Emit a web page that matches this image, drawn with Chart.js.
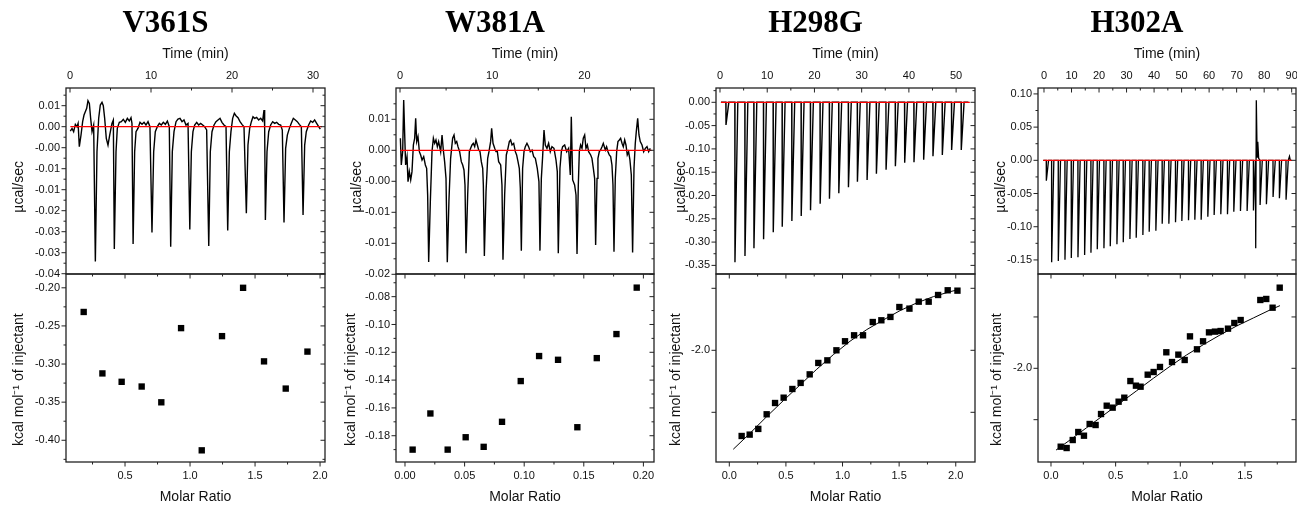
<!DOCTYPE html>
<html><head><meta charset="utf-8">
<script src="https://cdn.jsdelivr.net/npm/chart.js@4.4.1/dist/chart.umd.min.js"></script>
<style>
html,body{margin:0;padding:0;overflow:hidden;background:#fff;width:1297px;height:505px;position:relative;}
canvas{position:absolute;}
</style></head><body>
<script>
// ---------------- DATA ----------------
const NAMES = ['V361S', 'W381A', 'H298G', 'H302A'];

// V361S raw thermogram: time (min) and heat rate (x10^-3 ucal/sec)
const V361S_T = [0.04,0.25,0.45,0.66,0.86,1.00,1.15,1.36,1.56,1.73,1.89,2.06,2.22,2.39,2.55,2.72,2.92,3.13,
 3.33,3.54,3.74,3.95,4.11,4.28,4.48,4.69,4.90,5.18,5.35,5.47,
 5.68,5.84,6.09,6.34,6.58,6.83,7.08,7.32,7.53,7.65,7.79,
 7.98,8.15,8.39,8.64,8.89,9.14,9.38,9.63,9.87,10.12,
 10.33,10.53,10.78,11.03,11.27,11.52,11.77,12.02,12.26,12.43,
 12.63,12.84,13.09,13.33,13.58,13.83,14.07,14.32,14.57,14.79,
 14.98,15.18,15.39,15.64,15.88,16.13,16.38,16.62,16.87,17.13,
 17.32,17.53,17.78,18.02,18.27,18.52,18.76,19.01,19.26,19.47,
 19.67,19.87,20.08,20.29,20.49,20.74,20.99,21.23,21.48,21.77,
 21.97,22.18,22.39,22.59,22.80,23.04,23.29,23.54,23.78,23.95,24.03,24.12,
 24.32,24.53,24.77,25.02,25.27,25.51,25.76,26.01,26.21,26.42,
 26.62,26.83,27.08,27.32,27.57,27.82,28.06,28.31,28.56,28.77,
 28.97,29.17,29.46,29.71,29.96,30.20,30.45,30.70,30.90];
const V361S_Q = [-1.03,-0.40,-1.19,0.56,0,0.79,-4.76,-1.98,1.19,2.78,3.57,4.37,6.19,5.56,1.99,-1.19,0.40,-32.1,
 -5.96,1.99,5.16,5.80,5.00,1.99,-2.78,-4.37,-1.99,0.79,1.59,-29.1,
 -5.96,-0.40,1.03,1.19,1.75,1.03,1.99,1.35,2.14,0.79,-27.9,
 -5.96,-1.19,-0.40,1.03,0.56,1.03,0.40,1.19,0,-25.2,
 -5.96,-1.19,0,0.79,0.40,1.03,0.56,1.35,0,-28.6,
 -5.96,-1.19,1.19,1.83,1.99,1.19,1.59,0.40,0.79,-24.5,
 -5.96,-1.19,0.40,1.03,0.40,0.79,0.40,0,-0.79,-28.4,
 -5.96,-1.19,0.40,1.19,1.59,1.99,1.03,0.40,0,-24.7,
 -5.96,-1.19,1.99,3.18,2.62,2.14,1.19,0.56,0,-20.6,
 -4.37,-0.40,1.19,2.38,1.99,2.22,1.59,1.99,1.35,3.97,0,-22.2,
 -5.96,-1.19,0.40,1.19,0.79,1.03,0.56,0.40,-0.79,-22.8,
 -5.16,-1.99,-0.40,0.79,1.99,1.59,1.19,0.56,0,-21.0,
 -4.37,-1.19,0.40,1.35,1.03,1.59,0.79,0,-0.56];
const V361S_BASE_T = [0.04, 31.1];
const V361S_MR = [0.182,0.326,0.474,0.628,0.779,0.931,1.090,1.246,1.408,1.569,1.736,1.903];
const V361S_H = [-0.2317,-0.3123,-0.3233,-0.3295,-0.3502,-0.2529,-0.4132,-0.2634,-0.2000,-0.2965,-0.3322,-0.2837];

// W381A raw thermogram (x10^-3 ucal/sec)
const W381A_T = [0.04,0.14,0.29,0.40,0.51,0.61,0.76,0.87,1.01,1.16,
 1.30,1.45,1.59,1.70,1.81,1.95,2.10,2.24,2.39,2.57,
 2.75,2.89,3.00,3.11,3.29,3.47,3.62,3.76,3.90,4.05,
 4.19,4.41,4.56,4.70,4.84,4.99,5.13,5.31,5.49,5.71,
 5.86,6.00,6.15,6.29,6.47,6.65,6.80,6.94,7.05,7.16,
 7.34,7.52,7.66,7.81,7.95,8.10,8.24,8.39,8.53,8.68,
 8.82,8.97,9.04,9.15,9.33,9.51,9.65,9.83,9.94,10.09,
 10.27,10.41,10.56,10.70,10.92,11.06,11.17,11.35,11.53,11.71,
 11.86,12.00,12.15,12.33,12.51,12.65,12.80,12.94,13.05,13.16,
 13.30,13.45,13.59,13.77,13.95,14.13,14.32,14.50,14.68,14.89,
 15.07,15.18,15.33,15.47,15.62,15.76,15.94,16.12,16.30,16.48,
 16.70,16.92,17.06,17.17,17.35,17.50,17.64,17.86,18.08,18.29,
 18.47,18.58,18.73,18.94,19.09,19.20,19.34,19.45,19.59,19.74,
 19.88,20.03,20.17,20.32,20.46,20.68,20.82,20.97,21.11,21.22,
 21.37,21.47,21.62,21.76,21.91,22.05,22.27,22.41,22.56,22.70,
 22.85,22.99,23.10,23.21,23.35,23.50,23.64,23.79,23.93,24.08,
 24.22,24.37,24.51,24.65,24.80,24.94,25.09,25.23,25.38,25.52,
 25.63,25.78,25.92,26.06,26.25,26.43,26.61,26.79,26.97,27.15];
const W381A_Q = [1.94,-2.37,-0.22,8.12,2.47,-2.37,-1.02,-5.05,-3.44,-4.78,
 -3.44,0.86,1.94,5.16,1.40,2.20,-0.22,-0.75,-1.56,-1.02,
 -2.37,-2.90,-7.20,-18.01,-8.28,-0.22,1.94,1.13,1.67,0.59,
 1.40,-0.22,2.47,0.05,-1.83,-4.52,-18.06,-8.01,-1.29,1.94,
 2.47,1.13,1.40,0.59,-0.22,-1.83,-2.37,-3.17,-5.59,-16.61,
 -7.20,-0.22,0.32,0.86,1.13,0.59,1.67,0.86,0.05,-0.22,
 -1.83,-2.90,-5.59,-17.04,-6.67,-1.29,-0.22,1.40,3.55,1.13,
 0.32,-0.22,-0.22,-1.83,-2.37,-5.59,-17.63,-7.20,-0.75,0.32,
 1.40,1.67,0.86,1.13,-0.22,-0.75,-1.83,-2.90,-6.13,-16.18,
 -2.90,-0.22,0.59,1.13,0.59,-0.22,0.05,-1.02,-1.29,-2.90,
 -5.05,-16.18,-4.52,-1.02,3.28,0.86,0.32,1.13,-0.22,0.59,
 0.32,-1.56,-3.44,-16.61,-2.90,-0.22,0.59,0.86,-0.22,0.32,
 -3.98,5.43,-4.78,-5.59,-7.20,-16.72,-5.59,-0.22,0.86,0.32,
 1.94,2.47,0.32,0.86,-0.22,-0.75,-1.29,-2.90,-4.52,-15.27,
 -4.52,-1.29,-0.22,0.05,0.59,1.13,0.05,0.59,-0.22,-0.75,
 -1.02,-2.37,-5.59,-16.34,-4.52,-0.22,1.40,1.67,1.94,1.13,
 0.59,1.67,0.86,-0.75,-0.22,-1.56,-3.98,-16.50,-2.90,1.13,
 3.01,5.16,2.47,1.40,0.86,-0.22,0.32,0.59,-0.22,0.32];
const W381A_BASE_T = [0.04, 27.3];
const W381A_MR = [0.0064,0.0213,0.0358,0.0509,0.0660,0.0814,0.0971,0.1125,0.1284,0.1446,0.1609,0.1774,0.1944];
const W381A_H = [-0.1900,-0.1640,-0.1900,-0.1811,-0.1880,-0.1700,-0.1407,-0.1227,-0.1254,-0.1739,-0.1242,-0.1069,-0.0735];

// H298G injections: time (min) and peak heat rate (ucal/sec)
const H298G_INJ_T = [1.27,3.17,5.29,7.19,9.23,11.28,13.18,15.22,17.20,19.17,21.21,23.18,25.16,27.20,29.10,31.15,33.12,35.17,37.14,39.11,41.08,43.13,45.10,47.08,49.05,51.09];
const H298G_PEAK = [-0.0487,-0.3434,-0.3298,-0.3134,-0.2941,-0.2790,-0.2669,-0.2547,-0.2440,-0.2318,-0.2175,-0.2068,-0.1953,-0.1825,-0.1703,-0.1667,-0.1531,-0.1446,-0.1374,-0.1296,-0.1288,-0.1231,-0.1159,-0.1131,-0.1024,-0.1024];
const H298G_TRACE_SPAN = [0.2, 52.6];
const H298G_BASE_T = [0.2, 52.9];
const H298G_MR = [0.109,0.180,0.256,0.330,0.404,0.480,0.557,0.630,0.710,0.786,0.866,0.946,1.022,1.102,1.181,1.267,1.343,1.423,1.502,1.591,1.673,1.761,1.844,1.929,2.015];
const H298G_H = [-2.691,-2.680,-2.634,-2.516,-2.425,-2.382,-2.312,-2.263,-2.194,-2.102,-2.081,-2.000,-1.927,-1.879,-1.879,-1.772,-1.758,-1.731,-1.651,-1.664,-1.608,-1.608,-1.554,-1.516,-1.519];
const H298G_FIT_MR = [0.035,0.183,0.330,0.477,0.624,0.772,0.919,1.066,1.214,1.361,1.508,1.655,1.803,1.950,2.015];
const H298G_FIT_H = [-2.798,-2.669,-2.535,-2.406,-2.280,-2.153,-2.035,-1.927,-1.833,-1.755,-1.680,-1.618,-1.567,-1.527,-1.513];

// H302A injections
const H302A_INJ_T = [0.85,2.78,5.20,7.62,9.92,12.34,14.76,17.06,19.36,21.78,24.08,26.50,28.80,31.22,33.51,35.93,38.23,40.65,42.95,45.37,47.79,50.09,52.51,54.81,57.11,59.53,61.83,64.25,66.67,68.97,71.39,73.81,76.11,78.52,80.82,83.24,85.54,87.96];
const H302A_PEAK = [-0.0306,-0.1536,-0.1516,-0.1496,-0.1471,-0.1461,-0.1426,-0.1391,-0.1340,-0.1325,-0.1295,-0.1265,-0.1235,-0.1185,-0.1165,-0.1124,-0.1074,-0.1059,-0.0954,-0.0954,-0.0934,-0.0914,-0.0904,-0.0894,-0.0894,-0.0848,-0.0823,-0.0813,-0.0813,-0.0773,-0.0763,-0.0763,-0.0755,-0.0673,-0.0663,-0.0552,-0.0572,-0.0592];
const H302A_EXTRA_T = [76.85,76.95,77.15,77.45,77.68,78.0,88.9,89.2,89.5];
const H302A_EXTRA_Q = [0,-0.1325,0.0904,0.005,0.028,0.003,0,0.006,0];
const H302A_TRACE_SPAN = [-0.25, 90.0];
const H302A_BASE_T = [-0.25, 90.0];
const H302A_MR = [0.075,0.121,0.168,0.211,0.255,0.299,0.345,0.387,0.431,0.477,0.523,0.567,0.614,0.657,0.693,0.748,0.794,0.843,0.892,0.936,0.985,1.034,1.075,1.129,1.176,1.222,1.268,1.312,1.369,1.418,1.467,1.619,1.665,1.714,1.769];
const H302A_H = [-2.763,-2.776,-2.698,-2.620,-2.656,-2.542,-2.552,-2.445,-2.364,-2.383,-2.325,-2.286,-2.124,-2.169,-2.179,-2.062,-2.036,-1.987,-1.844,-1.939,-1.867,-1.919,-1.689,-1.815,-1.737,-1.650,-1.643,-1.637,-1.614,-1.559,-1.530,-1.335,-1.325,-1.410,-1.215];
const H302A_FIT_MR = [0.039,0.147,0.276,0.405,0.534,0.663,0.791,0.920,1.049,1.178,1.307,1.436,1.565,1.694,1.771];
const H302A_FIT_H = [-2.796,-2.698,-2.578,-2.458,-2.338,-2.218,-2.098,-1.981,-1.870,-1.770,-1.676,-1.588,-1.510,-1.432,-1.390];

// ---------------- TICKS ----------------
const V361S_TIME_TICKS = [0,10,20,30], V361S_TIME_MINOR = [5,15,25];
const V361S_RATE_TICKS = [0.005,0,-0.005,-0.01,-0.015,-0.02,-0.025,-0.03,-0.035];
const V361S_RATE_LABELS = ['0.01','0.00','-0.00','-0.01','-0.01','-0.02','-0.03','-0.03','-0.04'];
const V361S_RATE_MINOR = [0.0075,0.0025,-0.0025,-0.0075,-0.0125,-0.0175,-0.0225,-0.0275,-0.0325];
const V361S_MR_TICKS = [0.5,1,1.5,2], V361S_MR_LABELS = ['0.5','1.0','1.5','2.0'], V361S_MR_MINOR = [0.25,0.75,1.25,1.75];
const V361S_H_TICKS = [-0.2,-0.25,-0.3,-0.35,-0.4], V361S_H_LABELS = ['-0.20','-0.25','-0.30','-0.35','-0.40'];
const V361S_H_MINOR = [-0.225,-0.275,-0.325,-0.375,-0.425];

const W381A_TIME_TICKS = [0,10,20], W381A_TIME_MINOR = [5,15,25];
const W381A_RATE_TICKS = [0.005,0,-0.005,-0.01,-0.015,-0.02];
const W381A_RATE_LABELS = ['0.01','0.00','-0.00','-0.01','-0.01','-0.02'];
const W381A_RATE_MINOR = [0.0075,0.0025,-0.0025,-0.0075,-0.0125,-0.0175];
const W381A_MR_TICKS = [0,0.05,0.1,0.15,0.2], W381A_MR_LABELS = ['0.00','0.05','0.10','0.15','0.20'], W381A_MR_MINOR = [0.025,0.075,0.125,0.175];
const W381A_H_TICKS = [-0.08,-0.1,-0.12,-0.14,-0.16,-0.18], W381A_H_LABELS = ['-0.08','-0.10','-0.12','-0.14','-0.16','-0.18'];
const W381A_H_MINOR = [-0.07,-0.09,-0.11,-0.13,-0.15,-0.17,-0.19];

const H298G_TIME_TICKS = [0,10,20,30,40,50], H298G_TIME_MINOR = [5,15,25,35,45];
const H298G_RATE_TICKS = [0,-0.05,-0.1,-0.15,-0.2,-0.25,-0.3,-0.35];
const H298G_RATE_LABELS = ['0.00','-0.05','-0.10','-0.15','-0.20','-0.25','-0.30','-0.35'];
const H298G_RATE_MINOR = [0.025,-0.025,-0.075,-0.125,-0.175,-0.225,-0.275,-0.325];
const H298G_MR_TICKS = [0,0.5,1,1.5,2], H298G_MR_LABELS = ['0.0','0.5','1.0','1.5','2.0'], H298G_MR_MINOR = [0.25,0.75,1.25,1.75];
const H298G_H_TICKS = [-1.5,-2,-2.5], H298G_H_LABELS = ['','-2.0',''], H298G_H_MINOR = [];

const H302A_TIME_TICKS = [0,10,20,30,40,50,60,70,80,90], H302A_TIME_MINOR = [5,15,25,35,45,55,65,75,85];
const H302A_RATE_TICKS = [0.1,0.05,0,-0.05,-0.1,-0.15];
const H302A_RATE_LABELS = ['0.10','0.05','0.00','-0.05','-0.10','-0.15'];
const H302A_RATE_MINOR = [0.075,0.025,-0.025,-0.075,-0.125];
const H302A_MR_TICKS = [0,0.5,1,1.5], H302A_MR_LABELS = ['0.0','0.5','1.0','1.5'], H302A_MR_MINOR = [0.25,0.75,1.25,1.75];
const H302A_H_TICKS = [-1.5,-2,-2.5], H302A_H_LABELS = ['','-2.0',''], H302A_H_MINOR = [];

// ---------------- LAYOUT / STYLE ----------------
const SANS = "'Liberation Sans', Arial, sans-serif";
const SERIF = "'Liberation Serif', 'Times New Roman', serif";
Chart.defaults.font.family = SANS;
Chart.defaults.color = '#111';

function milliTrace(T, Q) { return T.map((t, i) => ({x: t, y: Q[i] / 1000})); }
function spikeTrace(span, injT, peak, rec, exT, exQ) {
  const pts = [{x: span[0], y: 0}, {x: span[1], y: 0}];
  injT.forEach((t, i) => { pts.push({x: t - 0.03, y: 0}, {x: t, y: peak[i]}, {x: t + rec, y: 0}); });
  (exT || []).forEach((t, i) => pts.push({x: t, y: exQ[i]}));
  return pts.sort((a, b) => a.x - b.x);
}
const pairs = (X, Y) => X.map((x, i) => ({x, y: Y[i]}));

const PANELS = [
 { name: NAMES[0], L: 66, R: 325, topTitleX: 19, botTitleX: 19, lw: 1.4,
   trace: milliTrace(V361S_T, V361S_Q), base: V361S_BASE_T,
   tx: [-0.494, 31.48], ty: [-0.03507, 0.00921],
   tT: V361S_TIME_TICKS, tTm: V361S_TIME_MINOR, rT: V361S_RATE_TICKS, rL: V361S_RATE_LABELS, rTm: V361S_RATE_MINOR,
   pts: pairs(V361S_MR, V361S_H), fit: null,
   bx: [0.046, 2.038], by: [-0.4285, -0.1819],
   mT: V361S_MR_TICKS, mL: V361S_MR_LABELS, mTm: V361S_MR_MINOR, hT: V361S_H_TICKS, hL: V361S_H_LABELS, hTm: V361S_H_MINOR },
 { name: NAMES[1], L: 396, R: 654, topTitleX: 357, botTitleX: 351, lw: 1.4,
   trace: milliTrace(W381A_T, W381A_Q), base: W381A_BASE_T,
   tx: [-0.434, 27.55], ty: [-0.01995, 0.01005],
   tT: W381A_TIME_TICKS, tTm: W381A_TIME_MINOR, rT: W381A_RATE_TICKS, rL: W381A_RATE_LABELS, rTm: W381A_RATE_MINOR,
   pts: pairs(W381A_MR, W381A_H), fit: null,
   bx: [-0.00755, 0.2089], by: [-0.1989, -0.0637],
   mT: W381A_MR_TICKS, mL: W381A_MR_LABELS, mTm: W381A_MR_MINOR, hT: W381A_H_TICKS, hL: W381A_H_LABELS, hTm: W381A_H_MINOR },
 { name: NAMES[2], L: 716, R: 975, topTitleX: 681.5, botTitleX: 676, lw: 1.4,
   trace: spikeTrace(H298G_TRACE_SPAN, H298G_INJ_T, H298G_PEAK, 0.6), base: H298G_BASE_T,
   tx: [-0.847, 54.0], ty: [-0.3685, 0.0307],
   tT: H298G_TIME_TICKS, tTm: H298G_TIME_MINOR, rT: H298G_RATE_TICKS, rL: H298G_RATE_LABELS, rTm: H298G_RATE_MINOR,
   pts: pairs(H298G_MR, H298G_H), fit: pairs(H298G_FIT_MR, H298G_FIT_H),
   bx: [-0.1175, 2.170], by: [-2.9008, -1.3847],
   mT: H298G_MR_TICKS, mL: H298G_MR_LABELS, mTm: H298G_MR_MINOR, hT: H298G_H_TICKS, hL: H298G_H_LABELS, hTm: H298G_H_MINOR },
 { name: NAMES[3], L: 1038, R: 1296, topTitleX: 1001.5, botTitleX: 997, lw: 1.3,
   trace: spikeTrace(H302A_TRACE_SPAN, H302A_INJ_T, H302A_PEAK, 0.8, H302A_EXTRA_T, H302A_EXTRA_Q), base: H302A_BASE_T,
   tx: [-2.18, 91.57], ty: [-0.1712, 0.1089],
   tT: H302A_TIME_TICKS, tTm: H302A_TIME_MINOR, rT: H302A_RATE_TICKS, rL: H302A_RATE_LABELS, rTm: H302A_RATE_MINOR,
   pts: pairs(H302A_MR, H302A_H), fit: pairs(H302A_FIT_MR, H302A_FIT_H),
   bx: [-0.1005, 1.895], by: [-2.912, -1.082],
   mT: H302A_MR_TICKS, mL: H302A_MR_LABELS, mTm: H302A_MR_MINOR, hT: H302A_H_TICKS, hL: H302A_H_LABELS, hTm: H302A_H_MINOR }
];

const MAJOR_LEN = 4.5, MINOR_LEN = 2.5;
function frameTicks(sides) {
  return {
    id: 'frameTicks',
    afterDatasetsDraw(chart) {
      const {ctx, chartArea: a} = chart;
      ctx.save();
      ctx.strokeStyle = '#222';
      ctx.lineWidth = 1;
      for (const s of sides) {
        const sc = chart.scales[s.scale];
        const horiz = s.side === 'top' || s.side === 'bottom';
        const edge = {left: a.left, right: a.right, top: a.top, bottom: a.bottom}[s.side];
        const outward = (s.side === 'left' || s.side === 'top') ? -1 : 1;
        const dir = s.dir === 'out' ? outward : -outward;
        const mark = (v, len) => {
          const p = sc.getPixelForValue(v);
          if (horiz ? (p < a.left - 0.5 || p > a.right + 0.5) : (p < a.top - 0.5 || p > a.bottom + 0.5)) return;
          ctx.beginPath();
          if (horiz) { ctx.moveTo(p, edge); ctx.lineTo(p, edge + dir * len); }
          else { ctx.moveTo(edge, p); ctx.lineTo(edge + dir * len, p); }
          ctx.stroke();
        };
        s.major.forEach(v => mark(v, MAJOR_LEN));
        s.minor.forEach(v => mark(v, MINOR_LEN));
      }
      ctx.lineWidth = 1.3;
      ctx.strokeRect(a.left, a.top, a.right - a.left, a.bottom - a.top);
      ctx.restore();
    }
  };
}

function addCanvas(left, top, w, h) {
  const cv = document.createElement('canvas');
  cv.width = w; cv.height = h;
  cv.style.left = left + 'px'; cv.style.top = top + 'px';
  cv.style.width = w + 'px'; cv.style.height = h + 'px';
  document.body.appendChild(cv);
  return cv;
}
const TICK_FONT = {size: 11};

function buildTop(p) {
  const CL = p.L - 60, W = p.R - p.L + 120;
  const cv = addCanvas(CL, 0, W, 286);
  new Chart(cv, {
    type: 'scatter',
    data: { datasets: [
      { data: p.base.map(t => ({x: t, y: 0})), showLine: true, borderColor: '#ff0000', borderWidth: 1.3, pointRadius: 0 },
      { data: p.trace, showLine: true, borderColor: '#000', borderWidth: p.lw, pointRadius: 0 }
    ]},
    options: {
      responsive: false, animation: false, devicePixelRatio: 1,
      layout: { padding: {left: 0, right: 60, top: 0, bottom: 12} },
      plugins: {
        legend: {display: false}, tooltip: {enabled: false},
        title: { display: true, text: p.name, color: '#000',
                 font: {family: SERIF, weight: 'bold', size: 31, lineHeight: 1}, padding: {top: 8, bottom: 3} }
      },
      scales: {
        x: { type: 'linear', position: 'top', min: p.tx[0], max: p.tx[1],
             afterBuildTicks: s => { s.ticks = p.tT.map(v => ({value: v})); },
             afterFit: s => { s.height = 46; },
             grid: {display: false, drawTicks: false}, border: {display: false},
             ticks: {autoSkip: false, maxRotation: 0, padding: 5.3, font: TICK_FONT, callback: (v, i) => String(p.tT[i])},
             title: {display: true, text: 'Time (min)', font: {size: 14}, padding: {top: 3.6, bottom: 0}} },
        y: { type: 'linear', position: 'left', min: p.ty[0], max: p.ty[1],
             afterBuildTicks: s => { s.ticks = p.rT.map(v => ({value: v})); },
             afterFit: s => { s.width = 60; },
             grid: {display: false, drawTicks: true, tickLength: 3}, border: {display: false},
             ticks: {autoSkip: false, padding: 3, font: TICK_FONT, callback: (v, i) => p.rL[i]},
             title: {display: true, text: 'µcal/sec   ', font: {size: 14}, padding: {top: p.topTitleX - CL - 8.4, bottom: 0}} }
      }
    },
    plugins: [frameTicks([
      {side: 'left', scale: 'y', dir: 'out', major: p.rT, minor: p.rTm},
      {side: 'right', scale: 'y', dir: 'in', major: p.rT, minor: p.rTm},
      {side: 'top', scale: 'x', dir: 'in', major: p.tT, minor: p.tTm}
    ])]
  });
}

function buildBottom(p) {
  const CL = p.L - 60, W = p.R - p.L + 120;
  const cv = addCanvas(CL, 262, W, 243);
  const ds = [{ data: p.pts, pointStyle: 'rect', pointRadius: 4.5, backgroundColor: '#000', borderWidth: 0 }];
  if (p.fit) ds.push({ data: p.fit, showLine: true, borderColor: '#000', borderWidth: 1, pointRadius: 0 });
  new Chart(cv, {
    type: 'scatter',
    data: { datasets: ds },
    options: {
      responsive: false, animation: false, devicePixelRatio: 1,
      layout: { padding: {left: 0, right: 60, top: 12, bottom: 0} },
      plugins: { legend: {display: false}, tooltip: {enabled: false}, title: {display: false} },
      scales: {
        x: { type: 'linear', position: 'bottom', min: p.bx[0], max: p.bx[1],
             afterBuildTicks: s => { s.ticks = p.mT.map(v => ({value: v})); },
             afterFit: s => { s.height = 43; },
             grid: {display: false, drawTicks: true, tickLength: 4}, border: {display: false},
             ticks: {autoSkip: false, maxRotation: 0, padding: 3.8, font: TICK_FONT, callback: (v, i) => p.mL[i]},
             title: {display: true, text: 'Molar Ratio', font: {size: 14, lineHeight: 1}, padding: {top: 0, bottom: 0.5}} },
        y: { type: 'linear', position: 'left', min: p.by[0], max: p.by[1],
             afterBuildTicks: s => { s.ticks = p.hT.map(v => ({value: v})); },
             afterFit: s => { s.width = 60; },
             grid: {display: false, drawTicks: true, tickLength: 3}, border: {display: false},
             ticks: {autoSkip: false, padding: 3, font: TICK_FONT, callback: (v, i) => p.hL[i]},
             title: {display: true, text: 'kcal mol⁻¹ of injectant      ', font: {size: 14}, padding: {top: p.botTitleX - CL - 8.4, bottom: 0}} }
      }
    },
    plugins: [frameTicks([
      {side: 'left', scale: 'y', dir: 'out', major: p.hT, minor: p.hTm},
      {side: 'right', scale: 'y', dir: 'in', major: p.hT, minor: p.hTm},
      {side: 'bottom', scale: 'x', dir: 'out', major: p.mT, minor: p.mTm},
      {side: 'top', scale: 'x', dir: 'in', major: p.mT, minor: p.mTm}
    ])]
  });
}

PANELS.forEach(p => { buildTop(p); buildBottom(p); });
</script>
</body></html>
